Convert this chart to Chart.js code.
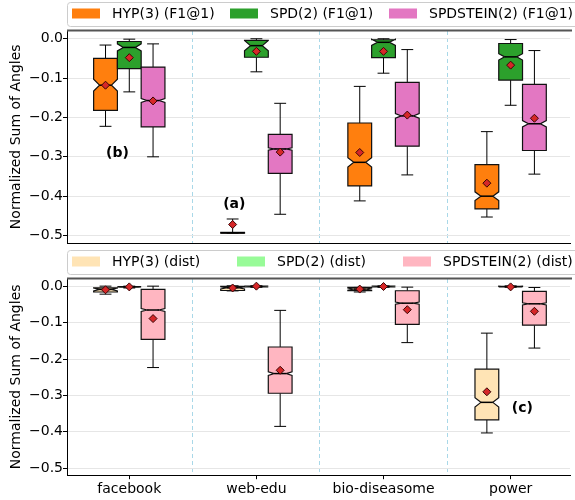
<!DOCTYPE html>
<html><head><meta charset="utf-8">
<script src="https://cdn.jsdelivr.net/npm/chart.js@4"></script>
<style>
html,body{margin:0;padding:0;background:#fff;overflow:hidden;}
#top{position:absolute;left:0;top:0;width:575px;height:248px;}
#bot{position:absolute;left:0;top:248px;width:575px;height:252px;}
</style></head><body>
<div id="top"><canvas id="c1"></canvas></div>
<div id="bot"><canvas id="c2"></canvas></div>
<script>
// ---------- data ----------
const categories = ['facebook', 'web-edu', 'bio-diseasome', 'power'];
const yTickValues = [0, -0.1, -0.2, -0.3, -0.4, -0.5];
const yTickLabels = ['0.0', '−0.1', '−0.2', '−0.3', '−0.4', '−0.5'];
const dividerValues = [0.5, 1.5, 2.5];
const seriesLabelsTop = ['HYP(3) (F1@1)', 'SPD(2) (F1@1)', 'SPDSTEIN(2) (F1@1)'];
const seriesLabelsBottom = ['HYP(3) (dist)', 'SPD(2) (dist)', 'SPDSTEIN(2) (dist)'];

// top panel (F1@1)
const hypF1WhiskHi = [-0.016, -0.458, -0.121, -0.236];
const hypF1Q3      = [-0.050, -0.492, -0.214, -0.320];
const hypF1Med     = [-0.118, -0.493, -0.314, -0.400];
const hypF1Q1      = [-0.182, -0.494, -0.374, -0.4325];
const hypF1WhiskLo = [-0.2225, -0.494, -0.412, -0.453];
const hypF1Mean    = [-0.118, -0.472, -0.289, -0.367];
const hypF1Notch   = [0.015, 0, 0.012, 0.011];

const spdF1WhiskHi = [-0.001, 0.0, 0.0, -0.002];
const spdF1Q3      = [-0.007, -0.004, -0.0025, -0.012];
const spdF1Med     = [-0.022, -0.0175, -0.009, -0.046];
const spdF1Q1      = [-0.076, -0.047, -0.048, -0.105];
const spdF1WhiskLo = [-0.135, -0.084, -0.0875, -0.169];
const spdF1Mean    = [-0.048, -0.032, -0.032, -0.067];
const spdF1Notch   = [0.009, 0.013, 0.008, 0.008];

const steinF1WhiskHi = [-0.013, -0.164, -0.0275, -0.030];
const steinF1Q3      = [-0.072, -0.243, -0.111, -0.116];
const steinF1Med     = [-0.157, -0.280, -0.196, -0.216];
const steinF1Q1      = [-0.224, -0.342, -0.273, -0.284];
const steinF1WhiskLo = [-0.300, -0.446, -0.346, -0.344];
const steinF1Mean    = [-0.158, -0.288, -0.194, -0.202];
const steinF1Notch   = [0.005, 0.003, 0.006, 0.008];

// bottom panel (dist)
const hypDistWhiskHi = [0.0, 0.001, -0.0035, -0.129];
const hypDistQ3      = [-0.0045, -0.0005, -0.0035, -0.228];
const hypDistMed     = [-0.009, -0.0045, -0.008, -0.319];
const hypDistQ1      = [-0.016, -0.012, -0.0125, -0.367];
const hypDistWhiskLo = [-0.022, -0.013, -0.016, -0.403];
const hypDistMean    = [-0.010, -0.005, -0.008, -0.290];
const hypDistNotch   = [0.004, 0.003, 0.003, 0.013];

const spdDistWhiskHi = [0.0, 0.001, 0.0005, 0.0005];
const spdDistQ3      = [-0.001, 0.0, 0.0, -0.0005];
const spdDistMed     = [-0.002, -0.001, -0.001, -0.001];
const spdDistQ1      = [-0.003, -0.002, -0.002, -0.002];
const spdDistWhiskLo = [-0.005, -0.003, -0.003, -0.003];
const spdDistMean    = [-0.002, 0.0, -0.001, -0.002];
const spdDistNotch   = [0.001, 0.001, 0.001, 0.001];

const steinDistWhiskHi = [0.0, -0.0665, -0.0027, -0.0036];
const steinDistQ3      = [-0.009, -0.167, -0.0126, -0.0144];
const steinDistMed     = [-0.0655, -0.240, -0.0467, -0.0485];
const steinDistQ1      = [-0.146, -0.294, -0.105, -0.107];
const steinDistWhiskLo = [-0.2235, -0.385, -0.155, -0.170];
const steinDistMean    = [-0.089, -0.231, -0.0646, -0.069];
const steinDistNotch   = [0.004, 0.005, 0.003, 0.003];

// ---------- styling / layout ----------
const FONT = 'DejaVu Sans';
const BOX_W = 0.187;
const OFFSETS = [-0.187, 0, 0.187];
const X_MIN = -0.49, X_MAX = 3.467;
const Y_MIN = -0.519, Y_MAX = 0.021;

function stats(hi, q3, med, q1, lo, mean, notch) {
  return {hi, q3, med, q1, lo, mean, notch};
}
function makeDataset(label, color, st, offset) {
  return {
    type: 'scatter', label, boxColor: color, stats: st, offset,
    data: st.mean.map((m, i) => ({x: i + offset, y: m})),
    pointStyle: 'rectRot', pointRadius: 4, pointHoverRadius: 4,
    backgroundColor: '#d62728', borderColor: '#3a0505', borderWidth: 1
  };
}

const boxPlugin = {
  id: 'boxes',
  beforeDatasetsDraw(chart) {
    const {ctx, scales: {x, y}} = chart;
    ctx.save();
    chart.data.datasets.forEach(ds => {
      const s = ds.stats;
      for (let i = 0; i < s.med.length; i++) {
        const xc = i + ds.offset;
        const xl = x.getPixelForValue(xc - BOX_W / 2);
        const xr = x.getPixelForValue(xc + BOX_W / 2);
        const xm = x.getPixelForValue(xc);
        const cl = x.getPixelForValue(xc - BOX_W / 4);
        const cr = x.getPixelForValue(xc + BOX_W / 4);
        const ind = (xr - xl) / 4;
        const yhi = y.getPixelForValue(s.hi[i]);
        const ylo = y.getPixelForValue(s.lo[i]);
        const yq3 = y.getPixelForValue(s.q3[i]);
        const yq1 = y.getPixelForValue(s.q1[i]);
        const ymed = y.getPixelForValue(s.med[i]);
        const n = s.notch[i];
        // whiskers + caps
        ctx.strokeStyle = '#000';
        ctx.lineWidth = 1;
        ctx.beginPath();
        ctx.moveTo(xm, yq3); ctx.lineTo(xm, yhi);
        ctx.moveTo(xm, yq1); ctx.lineTo(xm, ylo);
        ctx.moveTo(cl, yhi); ctx.lineTo(cr, yhi);
        ctx.moveTo(cl, ylo); ctx.lineTo(cr, ylo);
        ctx.stroke();
        // box
        ctx.beginPath();
        if (n > 0) {
          const ynHi = y.getPixelForValue(s.med[i] + n);
          const ynLo = y.getPixelForValue(s.med[i] - n);
          ctx.moveTo(xl, yq1);
          ctx.lineTo(xl, ynLo);
          ctx.lineTo(xl + ind, ymed);
          ctx.lineTo(xl, ynHi);
          ctx.lineTo(xl, yq3);
          ctx.lineTo(xr, yq3);
          ctx.lineTo(xr, ynHi);
          ctx.lineTo(xr - ind, ymed);
          ctx.lineTo(xr, ynLo);
          ctx.lineTo(xr, yq1);
          ctx.closePath();
        } else {
          ctx.rect(xl, yq3, xr - xl, yq1 - yq3);
        }
        ctx.fillStyle = ds.boxColor;
        ctx.fill();
        ctx.lineWidth = 1.2;
        ctx.strokeStyle = '#111';
        ctx.stroke();
        // median
        ctx.beginPath();
        ctx.lineWidth = 1.5;
        ctx.strokeStyle = '#000';
        if (n > 0) { ctx.moveTo(xl + ind, ymed); ctx.lineTo(xr - ind, ymed); }
        else { ctx.moveTo(xl, ymed); ctx.lineTo(xr, ymed); }
        ctx.stroke();
      }
    });
    ctx.restore();
  }
};

const framePlugin = {
  id: 'frame',
  afterDraw(chart, args, opts) {
    const {ctx, chartArea: a} = chart;
    ctx.save();
    // top spine
    ctx.strokeStyle = '#555';
    ctx.lineWidth = 2;
    ctx.beginPath();
    ctx.moveTo(a.left, a.top); ctx.lineTo(a.right + 2, a.top);
    ctx.stroke();
    // legend frame
    ctx.strokeStyle = '#cccccc';
    ctx.lineWidth = 1;
    ctx.beginPath();
    ctx.roundRect(67.5, 2.5, 520, 24, 3);
    ctx.fillStyle = '#fff';
    ctx.fill();
    ctx.stroke();
    // legend items
    ctx.font = '14px "' + FONT + '"';
    ctx.textBaseline = 'middle';
    ctx.textAlign = 'left';
    chart.data.datasets.forEach((ds, k) => {
      const px = opts.patchX[k];
      ctx.fillStyle = ds.boxColor;
      ctx.fillRect(px, 8.5, 28, 10);
      ctx.fillStyle = '#000';
      ctx.fillText(ds.label, px + 40, 14);
    });
    // annotations
    ctx.font = 'bold 14px "' + FONT + '"';
    ctx.textAlign = 'center';
    (opts.notes || []).forEach(nt => {
      ctx.fillText(nt.text, chart.scales.x.getPixelForValue(nt.x), chart.scales.y.getPixelForValue(nt.y));
    });
    ctx.restore();
  }
};

function makeOptions(showX, frameOpts, padBottom) {
  return {
    responsive: true, maintainAspectRatio: false, animation: false,
    events: [],
    layout: {padding: {top: 30.5, bottom: padBottom, left: 5, right: 0}},
    plugins: {legend: {display: false}, tooltip: {enabled: false}, frame: frameOpts},
    scales: {
      x: {
        type: 'linear', min: X_MIN, max: X_MAX, position: 'bottom',
        afterBuildTicks: a => { a.ticks = categories.map((c, i) => ({value: i})); },
        afterFit: a => { a.paddingLeft = 0; a.paddingRight = 0; },
        ticks: {display: showX, autoSkip: false, maxRotation: 0, padding: 2, color: '#000',
                font: {family: FONT, size: 14}, callback: v => categories[Math.round(v)]},
        grid: {display: true, drawOnChartArea: false, drawTicks: showX, tickLength: 4,
               tickColor: '#000', tickWidth: 1},
        border: {display: true, color: '#000', width: 1}
      },
      xdiv: {
        type: 'linear', min: X_MIN, max: X_MAX, position: 'top',
        afterBuildTicks: a => { a.ticks = dividerValues.map(v => ({value: v})); },
        ticks: {display: false},
        grid: {color: '#a9d8e8', lineWidth: 1, drawTicks: false},
        border: {display: false, dash: [4, 3]}
      },
      y: {
        min: Y_MIN, max: Y_MAX,
        afterBuildTicks: a => { a.ticks = yTickValues.map(v => ({value: v})); },
        afterFit: a => { a.width = 62; a.paddingTop = 0; a.paddingBottom = 0; },
        ticks: {color: '#000', padding: 0, font: {family: FONT, size: 14},
                callback: (v, i) => yTickLabels[i]},
        grid: {color: '#e6e6e6', lineWidth: 1, tickColor: '#000', tickLength: 4, tickWidth: 1},
        border: {display: true, color: '#000', width: 1},
        title: {display: true, text: 'Normalized Sum of Angles', color: '#000',
                font: {family: FONT, size: 14}, padding: {top: 3, bottom: 0}}
      }
    }
  };
}

new Chart(document.getElementById('c1'), {
  type: 'scatter',
  data: {datasets: [
    makeDataset(seriesLabelsTop[0], '#ff7f0e', stats(hypF1WhiskHi, hypF1Q3, hypF1Med, hypF1Q1, hypF1WhiskLo, hypF1Mean, hypF1Notch), OFFSETS[0]),
    makeDataset(seriesLabelsTop[1], '#2ca02c', stats(spdF1WhiskHi, spdF1Q3, spdF1Med, spdF1Q1, spdF1WhiskLo, spdF1Mean, spdF1Notch), OFFSETS[1]),
    makeDataset(seriesLabelsTop[2], '#e377c2', stats(steinF1WhiskHi, steinF1Q3, steinF1Med, steinF1Q1, steinF1WhiskLo, steinF1Mean, steinF1Notch), OFFSETS[2])
  ]},
  options: makeOptions(false, {patchX: [72, 230, 389], notes: [{text: '(b)', x: -0.093, y: -0.29}, {text: '(a)', x: 0.826, y: -0.42}]}, 1.5),
  plugins: [boxPlugin, framePlugin]
});

new Chart(document.getElementById('c2'), {
  type: 'scatter',
  data: {datasets: [
    makeDataset(seriesLabelsBottom[0], '#ffe4b5', stats(hypDistWhiskHi, hypDistQ3, hypDistMed, hypDistQ1, hypDistWhiskLo, hypDistMean, hypDistNotch), OFFSETS[0]),
    makeDataset(seriesLabelsBottom[1], '#98fb98', stats(spdDistWhiskHi, spdDistQ3, spdDistMed, spdDistQ1, spdDistWhiskLo, spdDistMean, spdDistNotch), OFFSETS[1]),
    makeDataset(seriesLabelsBottom[2], '#ffb6c1', stats(steinDistWhiskHi, steinDistQ3, steinDistMed, steinDistQ1, steinDistWhiskLo, steinDistMean, steinDistNotch), OFFSETS[2])
  ]},
  options: makeOptions(true, {patchX: [72, 237, 403], notes: [{text: '(c)', x: 3.092, y: -0.335}]}, 0),
  plugins: [boxPlugin, framePlugin]
});
</script>
</body></html>
